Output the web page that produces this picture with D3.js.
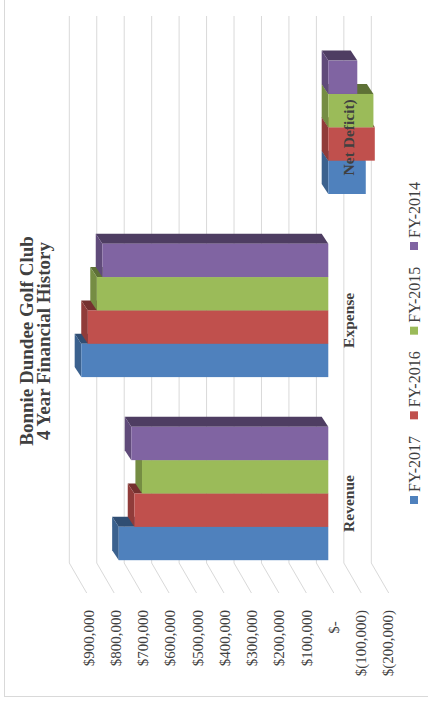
<!DOCTYPE html>
<html lang="en">
<head>
<meta charset="UTF-8">
<title>Bonnie Dundee Golf Club - 4 Year Financial History</title>
<script src="https://d3js.org/d3.v7.min.js"></script>
<style>
  * { margin: 0; padding: 0; }
  body { background: #fff; }
  svg text { font-family: "Liberation Serif", "DejaVu Serif", serif; fill: #404040; }
</style>
</head>
<body>
<div id="chart"></div>
<script>
// data
const categories = ["Revenue", "Expense", "Net Deficit)"];
const series = ["FY-2017", "FY-2016", "FY-2015", "FY-2014"];
const colors = ["#4F81BD", "#C0504D", "#9BBB59", "#8064A2"];
const revenue = [766000, 709000, 681000, 720000];
const expense = [903000, 879000, 846000, 826000];
const netDeficit = [-137000, -170000, -165000, -106000];
const tickValues = [900000, 800000, 700000, 600000, 500000, 400000, 300000, 200000, 100000, 0, -100000, -200000];
const titleLines = ["Bonnie Dundee Golf Club", "4 Year Financial History"];

const valuesByCat = { "Revenue": revenue, "Expense": expense, "Net Deficit)": netDeficit };

const W = 428, H = 706;
const svg = d3.select("#chart").append("svg").attr("width", W).attr("height", H);

// chart area border
svg.append("rect")
  .attr("x", 4.5).attr("y", -5).attr("width", 440).attr("height", 701.5)
  .attr("fill", "none").attr("stroke", "#D9D9D9");

// the chart is turned a quarter turn: values run right -> left
const gridX = d3.scaleLinear().domain([-200000, 900000]).range([371.3, 69.3]);   // back wall
const barX = d3.scaleLinear().domain([-200000, 900000]).range([383.0, 82.1]);    // bar front faces
const labelX = d3.scaleLinear().domain([-200000, 900000]).range([388, 88.3]);   // tick labels
const groupY = d3.scalePoint().domain(categories).range([493.5, 127.3]);
const barY = d3.scaleBand().domain(series).range([66.7, -66.7]);
const color = d3.scaleOrdinal().domain(series).range(colors);

const depth = { dx: -6.6, dy: -10 };
const floor = { top: 16, bottom: 563, dx: 17.4, dy: 30 };

// gridlines on back wall + floor
const grid = svg.append("g");
tickValues.forEach(v => {
  const x = gridX(v);
  grid.append("path")
    .attr("d", `M${x},${floor.top} L${x},${floor.bottom} L${x + floor.dx},${floor.bottom + floor.dy}`)
    .attr("fill", "none").attr("stroke", "#D9D9D9").attr("stroke-width", 1);
});

// value labels
const fmt = v => {
  if (v === 0) return "$-   ";
  const s = d3.format(",")(Math.abs(v));
  return v < 0 ? "$(" + s + ")" : "$" + s;
};
svg.append("g").selectAll("text")
  .data(tickValues).join("text")
  .attr("transform", d => `translate(${labelX(d)},610) rotate(-90)`)
  .attr("dy", "0.35em")
  .attr("text-anchor", "end")
  .attr("font-size", 15)
  .style("white-space", "pre")
  .text(fmt);

// bars, drawn bottom to top inside each group
const bars = svg.append("g");
categories.forEach(cat => {
  series.forEach((s, i) => {
    const v = valuesByCat[cat][i];
    const xa = Math.min(barX(v), barX(0));
    const xb = Math.max(barX(v), barX(0));
    const ya = groupY(cat) + barY(s);
    const yb = ya + barY.bandwidth();
    const c = color(s);
    const { dx, dy } = depth;
    bars.append("path")
      .attr("d", `M${xa},${ya} L${xb},${ya} L${xb + dx},${ya + dy} L${xa + dx},${ya + dy} Z`)
      .attr("fill", d3.color(c).darker(1.4));
    bars.append("path")
      .attr("d", `M${xa},${ya} L${xa},${yb} L${xa + dx},${yb + dy} L${xa + dx},${ya + dy} Z`)
      .attr("fill", d3.color(c).darker(0.8));
    bars.append("rect")
      .attr("x", xa).attr("y", ya)
      .attr("width", xb - xa).attr("height", yb - ya)
      .attr("fill", c);
  });
});

// category labels
svg.append("g").selectAll("text")
  .data(categories).join("text")
  .attr("transform", d => `translate(349,${groupY(d) + 10}) rotate(-90)`)
  .attr("dy", "0.35em")
  .attr("text-anchor", "middle")
  .attr("font-size", 15.5)
  .attr("font-weight", "bold")
  .text(d => d);

// title
svg.append("g").selectAll("text")
  .data(titleLines).join("text")
  .attr("transform", (d, i) => `translate(${33 + i * 17},341) rotate(-90)`)
  .attr("text-anchor", "middle")
  .attr("font-size", 19)
  .attr("font-weight", "bold")
  .text(d => d);

// legend
const legendY = d3.scalePoint().domain(series).range([500, 246]);
const legend = svg.append("g").selectAll("g")
  .data(series).join("g")
  .attr("transform", d => `translate(414,${legendY(d)})`);
legend.append("rect")
  .attr("x", -4).attr("y", -4).attr("width", 8).attr("height", 8)
  .attr("fill", d => color(d));
legend.append("text")
  .attr("transform", "translate(0,-8) rotate(-90)")
  .attr("dy", "0.35em")
  .attr("font-size", 16)
  .text(d => d);
</script>
</body>
</html>
